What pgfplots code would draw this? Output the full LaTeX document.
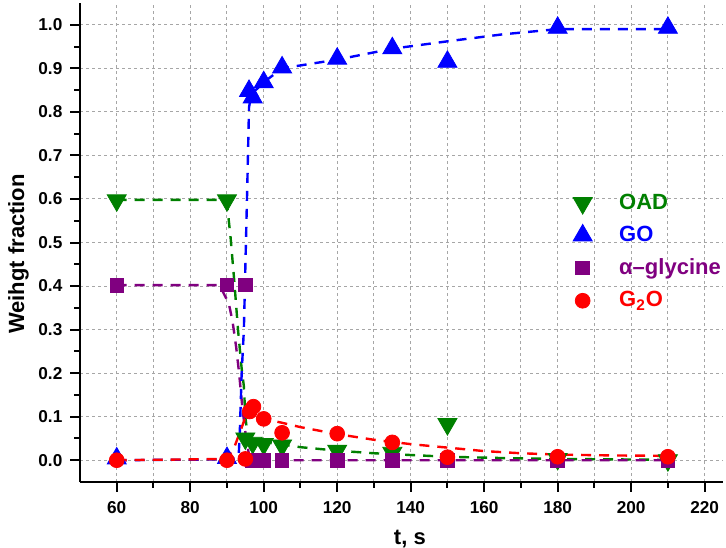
\documentclass[border=0pt]{standalone}
\usepackage{fontspec}
\setmainfont{Liberation Sans}
\usepackage{pgfplots}
\pgfplotsset{compat=1.18}
\definecolor{cgreen}{RGB}{0,128,0}
\definecolor{cblue}{RGB}{0,0,255}
\definecolor{cpurple}{RGB}{128,0,128}
\definecolor{cred}{RGB}{255,0,0}
\begin{document}
\begin{tikzpicture}
\begin{axis}[
  name=A,
  scale only axis,
  width=321.5pt, height=239.5pt,
  xmin=50, xmax=225, ymin=-0.05, ymax=1.05,
  axis x line*=bottom, axis y line*=left,
  axis line style={line width=1pt, -},
  xtick={60,80,...,220},
  ytick={0,0.1,0.2,0.3,0.4,0.5,0.6,0.7,0.8,0.9,1.0},
  minor x tick num=1, minor y tick num=1,
  tick align=outside,
  major tick length=4.8pt, minor tick length=2.8pt,
  every tick/.style={line width=1pt, black},
  xmajorgrids, xminorgrids, ymajorgrids,
  grid style={gray!70, line width=0.5pt, dash pattern=on 1.5pt off 1.5pt},
  minor grid style={gray!70, line width=0.5pt, dash pattern=on 1.5pt off 1.5pt},
  /pgf/number format/assume math mode=true,
  tick label style={font=\fontsize{8.6}{10}\selectfont\bfseries},
  xticklabel style={yshift=-1.5pt},
  yticklabel style={xshift=-0.5pt, /pgf/number format/.cd, fixed, fixed zerofill, precision=1},
  xlabel={t, s}, ylabel={Weihgt fraction},
  label style={font=\fontsize{11}{13}\selectfont\bfseries},
  xlabel style={at={(ticklabel cs:0.513)}, anchor=near ticklabel, yshift=-1.5pt},
  ylabel style={at={(ticklabel cs:0.476)}, anchor=near ticklabel, yshift=-2pt},
  legend style={at={(0.757,0.619)}, anchor=north west, draw=none, fill=none,
    font=\fontsize{11}{13}\selectfont\bfseries, row sep=3pt,
    /tikz/every odd column/.append style={column sep=11.5pt}},
  legend cell align=left,
]
% markers
\addplot[only marks, mark=triangle*, mark size=5.5pt, mark options={rotate=180, fill=cgreen, draw=cgreen}, color=cgreen]
coordinates {(60,0.597)(90,0.597)(95,0.05)(97,0.04)(100,0.037)(105,0.034)(120,0.022)(135,0.017)(150,0.083)(180,0.003)(210,0.0)};
\addlegendentry{\textcolor{cgreen}{OAD}}
\addplot[only marks, mark=triangle*, mark size=5.5pt, color=cblue, mark options={fill=cblue, draw=cblue}]
coordinates {(60,0.004)(90,0.005)(96,0.848)(97,0.833)(100,0.868)(105,0.902)(120,0.922)(135,0.946)(150,0.915)(180,0.993)(210,0.993)};
\addlegendentry{\textcolor{cblue}{GO}}
\addplot[only marks, mark=square*, mark size=3.4pt, color=cpurple, mark options={fill=cpurple, draw=cpurple}]
coordinates {(60,0.402)(90,0.403)(95,0.403)(97,0)(100,0)(105,0)(120,0)(135,0)(150,0)(180,0)(210,0)};
\addlegendentry{\textcolor{cpurple}{α–glycine}}
\addplot[only marks, mark=*, mark size=3.7pt, color=cred, mark options={fill=cred, draw=cred}]
coordinates {(60,0)(90,0)(95,0.003)(96.2,0.112)(97.2,0.123)(100,0.095)(105,0.063)(120,0.061)(135,0.041)(150,0.007)(180,0.008)(210,0.008)};
\addlegendentry{\textcolor{cred}{G\textsubscript{2}O}}
% fitted dashed curves
\addplot[forget plot, cgreen, line width=1.2pt, dash pattern=on 5pt off 4pt]
coordinates {(60,0.598)(88,0.598)(90,0.59)(91,0.51)(92,0.41)(93,0.3)(94,0.21)(94.6,0.17)(95,0.1)(95.5,0.065)(96,0.052)(98,0.046)(100,0.042)(105,0.036)(110,0.03)(120,0.022)(130,0.016)(140,0.012)(150,0.008)(165,0.005)(180,0.003)(210,0.001)};
\addplot[forget plot, cpurple, line width=1.2pt, dash pattern=on 5pt off 4pt]
coordinates {(60,0.402)(88,0.402)(89,0.385)(90.5,0.36)(91.5,0.32)(92.5,0.26)(93.3,0.2)(94.2,0.12)(95,0.065)(95.6,0.03)(96.2,0.006)(97,0)(210,0)};
\addplot[forget plot, cblue, line width=1.2pt, dash pattern=on 5pt off 4pt]
coordinates {(60,0)(90,0.002)(92.5,0.004)(93.2,0.012)(93.5,0.067)(94,0.2)(94.6,0.3)(95.5,0.62)(96,0.81)(96.6,0.84)(100,0.868)(105,0.9)(120,0.92)(135,0.945)(150,0.962)(165,0.978)(180,0.99)(210,0.99)};
\addplot[forget plot, cred, line width=1.2pt, dash pattern=on 5pt off 4pt]
coordinates {(60,0)(90,0.003)(92,0.03)(94,0.075)(95.5,0.11)(96.5,0.12)(98,0.105)(100,0.095)(105,0.086)(110,0.076)(115,0.068)(120,0.06)(130,0.047)(140,0.037)(150,0.029)(160,0.021)(170,0.016)(180,0.013)(195,0.011)(210,0.01)};
\end{axis}
\pgfresetboundingbox
\path[use as bounding box] ([shift={(-40pt,-32.5pt)}]A.south west) rectangle ([shift={(1.5pt,1.5pt)}]A.north east);
\end{tikzpicture}
\end{document}
